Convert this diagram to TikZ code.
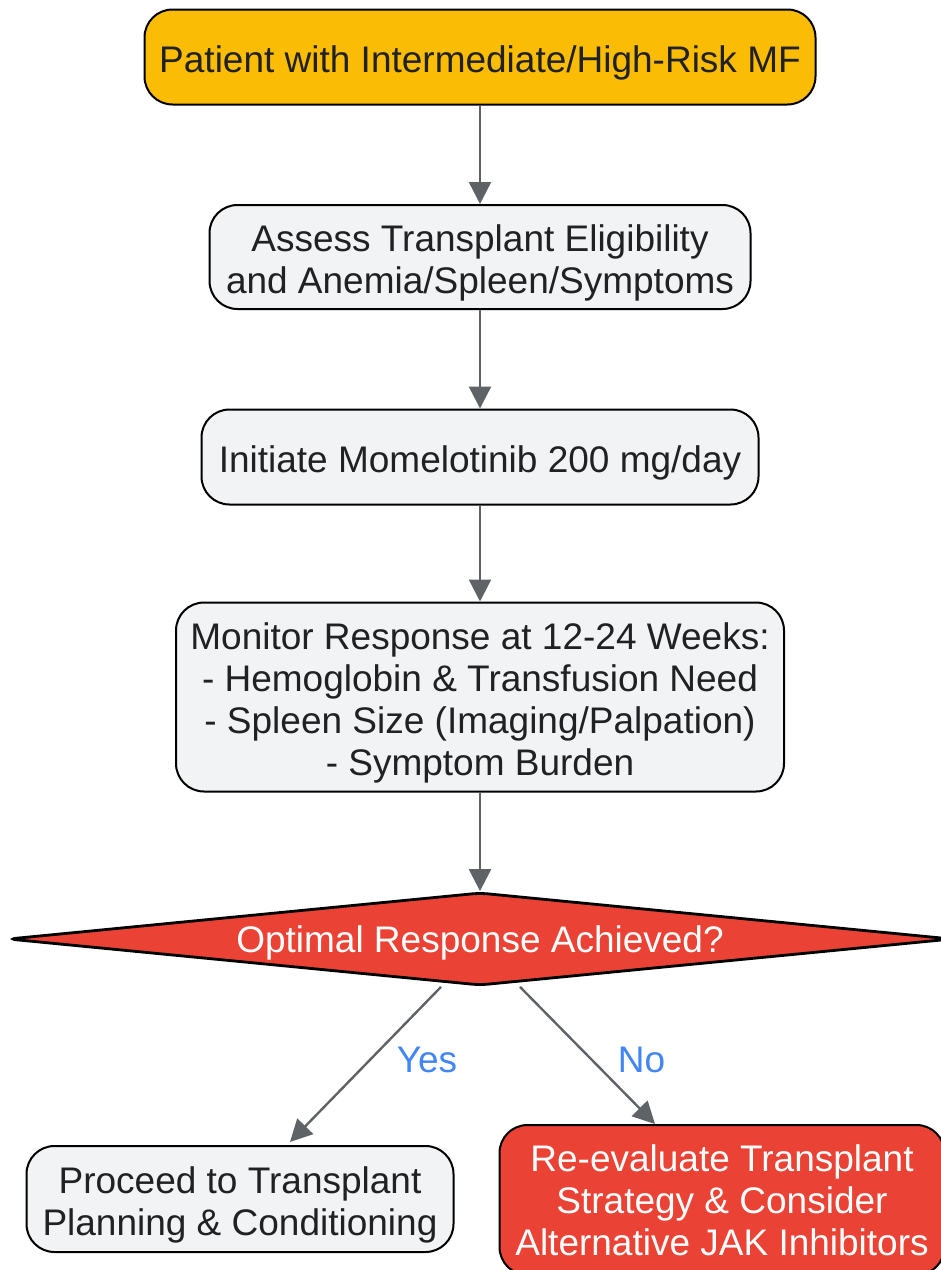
\documentclass[tikz,border=0pt]{standalone}
\usepackage{fontspec}
\setmainfont{Liberation Sans}
\usetikzlibrary{shapes.geometric,arrows.meta}
\definecolor{gold}{HTML}{FBBC05}
\definecolor{paleg}{HTML}{F1F3F4}
\definecolor{redd}{HTML}{EA4335}
\definecolor{ink}{HTML}{202124}
\definecolor{arrowg}{HTML}{5F6368}
\definecolor{lblue}{HTML}{4285F4}
\newcommand\lift[1][19.5pt]{\rule{0pt}{#1}}
\begin{document}
\begin{tikzpicture}[x=0.5pt,y=-0.5pt,
    font=\fontsize{18.5pt}{21pt}\selectfont,
    box/.style={draw=black,line width=1pt,rounded corners=14pt,fill=paleg,text=ink,align=center,inner sep=0pt},
    flow/.style={draw=arrowg,line width=1.2pt,-{Triangle[length=11pt,width=11pt]}},
    lbl/.style={text=lblue,inner sep=0pt}]
    \useasboundingbox (0,0) rectangle (941,1270);
    \node[box,fill=gold,minimum width=335.5pt,minimum height=47.5pt](start) at (480,57){\lift Patient with Intermediate/High-Risk MF};
    \node[box,minimum width=270.5pt,minimum height=52pt](assess) at (480,257){\lift Assess Transplant Eligibility\\and Anemia/Spleen/Symptoms};
    \node[box,minimum width=278.5pt,minimum height=47.5pt](init) at (480,457){\lift Initiate Momelotinib 200 mg/day};
    \node[box,minimum width=304pt,minimum height=94.5pt](monitor) at (480,697){\lift Monitor Response at 12-24 Weeks:\\- Hemoglobin \& Transfusion Need\\- Spleen Size (Imaging/Palpation)\\- Symptom Burden};
    \node[diamond,draw=black,line width=1.4pt,fill=redd,text=white,inner sep=0pt,aspect=10,minimum width=472pt,minimum height=46.5pt,rounded corners=4pt](resp) at (480,939){\lift[17.5pt]Optimal Response Achieved?};
    \node[box,minimum width=213.5pt,minimum height=53pt](yes) at (240,1199){\lift Proceed to Transplant\\Planning \& Conditioning};
    \node[box,fill=redd,text=white,minimum width=222.5pt,minimum height=75pt](no) at (722,1200){Re-evaluate Transplant\\Strategy \& Consider\\Alternative JAK Inhibitors};
    \draw[flow](start)--(assess);
    \draw[flow](assess)--(init);
    \draw[flow](init)--(monitor);
    \draw[flow](monitor)--(resp);
    \draw[flow]([xshift=-19.5pt]resp.south)--node[lbl,pos=0.47,xshift=28.5pt]{Yes}([xshift=25pt,yshift=1.5pt]yes.north);
    \draw[flow]([xshift=20pt]resp.south)--node[lbl,pos=0.53,xshift=25pt]{No}([xshift=-33.5pt]no.north);
\end{tikzpicture}
\end{document}
